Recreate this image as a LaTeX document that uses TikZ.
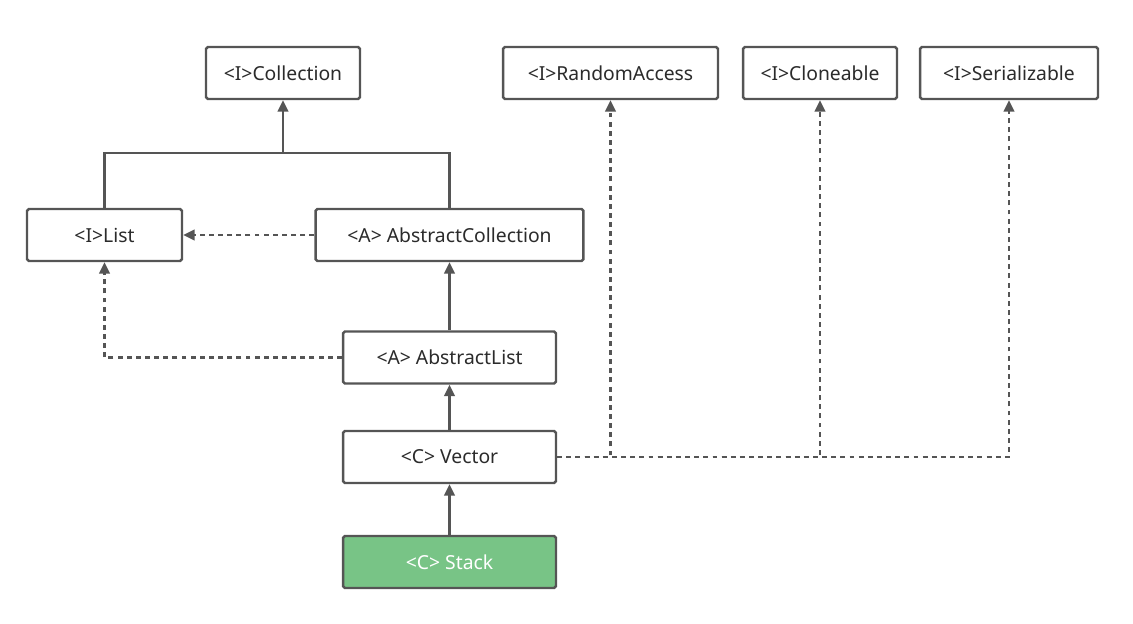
\documentclass[tikz,border=0pt]{standalone}
\usepackage{fontspec}
\setmainfont{Noto Sans}
\usetikzlibrary{arrows.meta, positioning}
\definecolor{linegray}{HTML}{555555}
\definecolor{textgray}{HTML}{2B2B2B}
\definecolor{stackgreen}{HTML}{78C486}

\begin{document}
\begin{tikzpicture}[x=0.02cm, y=-0.02cm,
  cls/.style={draw=linegray, line width=1.4pt, rounded corners=1pt, align=center, minimum height=1.04cm, fill=white, text=textgray, font=\fontsize{11}{13}\selectfont},
  arrow/.style={-{Triangle[length=6.5pt, width=6pt]}, draw=linegray, line width=1.4pt},
  impl/.style={arrow, dash pattern=on 2.8pt off 2.4pt}
]
\useasboundingbox (0,0) rectangle (1133,624);

\node[cls, minimum width=3.08cm] (coll) at (283,73) {<I>Collection};
\node[cls, minimum width=4.3cm] (rand) at (610.5,73) {<I>RandomAccess};
\node[cls, minimum width=3.08cm] (clone) at (820,73) {<I>Cloneable};
\node[cls, minimum width=3.56cm] (serial) at (1009,73) {<I>Serializable};
\node[cls, minimum width=3.1cm] (list) at (104.5,235) {<I>List};
\node[cls, minimum width=5.36cm] (acoll) at (449.5,235) {<A> AbstractCollection};
\node[cls, minimum width=4.26cm] (alist) at (449.5,357.5) {<A> AbstractList};
\node[cls, minimum width=4.26cm] (vector) at (449.5,457) {<C> Vector};
\node[cls, minimum width=4.26cm, fill=stackgreen, text=white] (stack) at (449.5,562) {<C> Stack};

\coordinate (split) at (283,153);

\draw[draw=linegray, line width=1.4pt] (list.north) |- (split) -| (acoll.north);
\draw[arrow] (split) -- (coll.south);
\draw[impl] (acoll.west) -- (list.east);
\draw[impl] (alist.west) -| (list.south);
\draw[arrow] (alist) -- (acoll);
\draw[arrow] (vector) -- (alist);
\draw[arrow] (stack) -- (vector);
\draw[impl] (vector.east) -| (serial.south);
\draw[impl] (vector.east) -| (clone.south);
\draw[impl] (vector.east) -| (rand.south);
\end{tikzpicture}
\end{document}
